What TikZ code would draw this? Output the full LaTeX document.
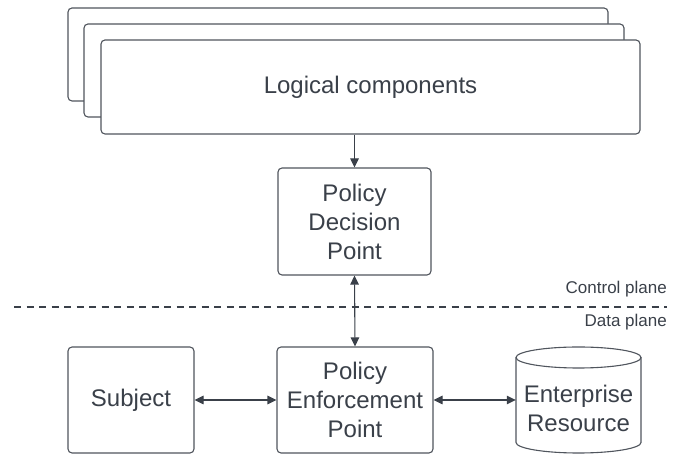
\documentclass[tikz,border=0pt]{standalone}
\usepackage{fontspec}
\setmainfont{Liberation Sans}
\usetikzlibrary{arrows.meta}
\definecolor{ink}{HTML}{3A4049}
\definecolor{edge}{HTML}{50555D}
\tikzset{
  box/.style={draw=edge, line width=1.1pt, rounded corners=4pt, fill=white,
    align=center, text=ink, font=\fontsize{24}{29}\selectfont, inner sep=0pt},
  layer/.style={draw=edge, line width=1.1pt, rounded corners=4pt, fill=white},
  link/.style={draw=ink, line width=1.1pt, -{Triangle[length=9pt,width=8.5pt]}},
  dlink/.style={draw=ink, line width=1.1pt, {Triangle[length=9pt,width=8.5pt]}-{Triangle[length=9pt,width=8.5pt]}},
  planelabel/.style={text=ink, font=\fontsize{17}{20}\selectfont, anchor=east, inner sep=0pt}
}
\begin{document}
\begin{tikzpicture}[x=1pt,y=1pt]
\useasboundingbox (0,0) rectangle (679,454);
% stacked logical component layers
\draw[layer] (68,353) rectangle (608,446);
\draw[layer] (84,337) rectangle (624,430);
\node[box, minimum width=539pt, minimum height=94pt] (logic) at (370.5,367) {Logical components};
% decision point
\node[box, minimum width=153pt, minimum height=107pt] (pdp) at (354.5,232.5) {Policy\\Decision\\Point};
% data plane nodes
\node[box, minimum width=156pt, minimum height=106pt] (pep) at (355,54) {Policy\\Enforcement\\Point};
\node[box, minimum width=126pt, minimum height=106pt] (subj) at (131,54) {Subject};
\node[inner sep=0pt, minimum width=125pt, minimum height=106pt] (res) at (578.5,54) {};
% cylinder outline for the resource
\draw[edge, line width=1.1pt]
  (516,96.5) -- (516,11.5) arc[start angle=180, end angle=360, x radius=62.5pt, y radius=10.5pt]
  -- (641,96.5);
\draw[edge, line width=1.1pt] (578.5,96.5) ellipse[x radius=62.5pt, y radius=10.5pt];
\node[text=ink, align=center, font=\fontsize{24}{29}\selectfont, inner sep=0pt] (restext) at (578.5,46) {Enterprise\\Resource};
% plane separator
\coordinate (sepL) at (14,147);
\coordinate (sepR) at (667,147);
\draw[ink, line width=1.1pt, dash pattern=on 7pt off 5.5pt] (sepL) -- (sepR);
\node[planelabel] (cp) at (667,165) {Control plane};
\node[planelabel] (dp) at (667,132) {Data plane};
% connectors
\draw[link] (pdp.north |- logic.south) -- (pdp.north);
\draw[dlink] (pdp.south) -- (pep.north);
\draw[dlink] (subj.east) -- (pep.west);
\draw[dlink] (pep.east) -- (res.west);
\end{tikzpicture}
\end{document}
